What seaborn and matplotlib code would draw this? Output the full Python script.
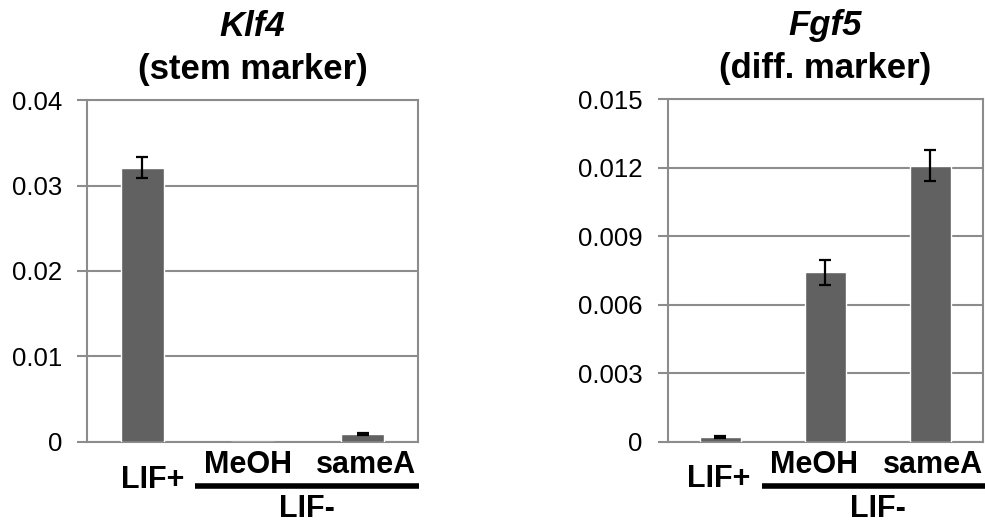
import pandas as pd
import seaborn as sns
import matplotlib.pyplot as plt
import matplotlib.ticker as mticker

# values
groups = ["LIF+", "MeOH", "sameA"]
klf4_mean = [0.0321, 0.00002, 0.00095]
klf4_err = [0.00125, 0.0, 0.0001]
fgf5_mean = [0.00022, 0.00741, 0.01208]
fgf5_err = [0.00004, 0.00055, 0.00069]
klf4_ticks = [0, 0.01, 0.02, 0.03, 0.04]
klf4_ticklabels = ["0", "0.01", "0.02", "0.03", "0.04"]
fgf5_ticks = [0, 0.003, 0.006, 0.009, 0.012, 0.015]
fgf5_ticklabels = ["0", "0.003", "0.006", "0.009", "0.012", "0.015"]

sns.set_style("white")
plt.rcParams["font.family"] = ["Liberation Sans", "DejaVu Sans"]
plt.rcParams["text.color"] = "black"
plt.rcParams["ytick.labelcolor"] = "black"

fig = plt.figure(figsize=(9.85, 5.22), dpi=100)
ax1 = fig.add_axes([0.0883, 0.1533, 0.3361, 0.6551])
ax2 = fig.add_axes([0.678, 0.1538, 0.3200, 0.6565])

bar_col = "#616161"
grid_col = "#8c8c8c"


def panel(ax, means, errs, ticks, ticklabels, gene, subtitle, line_x, lbl_shift):
    df = pd.DataFrame({"group": groups, "value": means})
    sns.barplot(x="group", y="value", data=df, color=bar_col, width=0.39,
                saturation=1, ax=ax, zorder=3)
    # only draw error bars where there is one
    idx = [i for i, e in enumerate(errs) if e > 0]
    ax.errorbar(idx, [means[i] for i in idx], yerr=[errs[i] for i in idx], fmt="none",
                ecolor="black", elinewidth=1.6, capsize=4, capthick=1.6, zorder=4)
    ax.set_ylim(ticks[0], ticks[-1])
    ax.set_xlim(-0.5, 2.5)
    ax.yaxis.set_major_locator(mticker.FixedLocator(ticks))
    ax.set_yticklabels(ticklabels, fontsize=18.5, color="black")
    ax.yaxis.grid(True, color=grid_col, linewidth=1.5, zorder=0)
    ax.set_axisbelow(True)
    for s in ax.spines.values():
        s.set_color(grid_col)
        s.set_linewidth(1.5)
    ax.tick_params(axis="y", length=7, width=1.5, color=grid_col, pad=11, left=True)
    ax.tick_params(axis="x", bottom=False, labelbottom=False)
    ax.set_xlabel("")
    ax.set_ylabel("")

    tr = ax.get_xaxis_transform()
    ax.text(0 + lbl_shift[0], -0.11, groups[0], transform=tr, ha="center", va="center",
            fontsize=22, fontweight="bold")
    ax.text(1 + lbl_shift[1], -0.067, groups[1], transform=tr, ha="center", va="center",
            fontsize=22, fontweight="bold")
    ax.text(2 + lbl_shift[2], -0.067, groups[2], transform=tr, ha="center", va="center",
            fontsize=22, fontweight="bold")
    ax.plot(line_x, [-0.128, -0.128], transform=tr, color="black", linewidth=4,
            clip_on=False, solid_capstyle="butt")
    ax.text(sum(line_x) / 2, -0.195, "LIF-", transform=tr, ha="center", va="center",
            fontsize=22, fontweight="bold")

    ax.text(0.5, 1.215, gene, transform=ax.transAxes, ha="center", va="center",
            fontsize=25, fontweight="bold", fontstyle="italic")
    ax.text(0.5, 1.09, subtitle, transform=ax.transAxes, ha="center", va="center",
            fontsize=25, fontweight="bold")


panel(ax1, klf4_mean, klf4_err, klf4_ticks, klf4_ticklabels, "Klf4", "(stem marker)",
      [0.48, 2.51], [0.1, -0.04, 0.03])
panel(ax2, fgf5_mean, fgf5_err, fgf5_ticks, fgf5_ticklabels, "Fgf5", "(diff. marker)",
      [0.40, 2.6], [-0.02, -0.11, 0.02])

fig.savefig("out.png", dpi=100)
